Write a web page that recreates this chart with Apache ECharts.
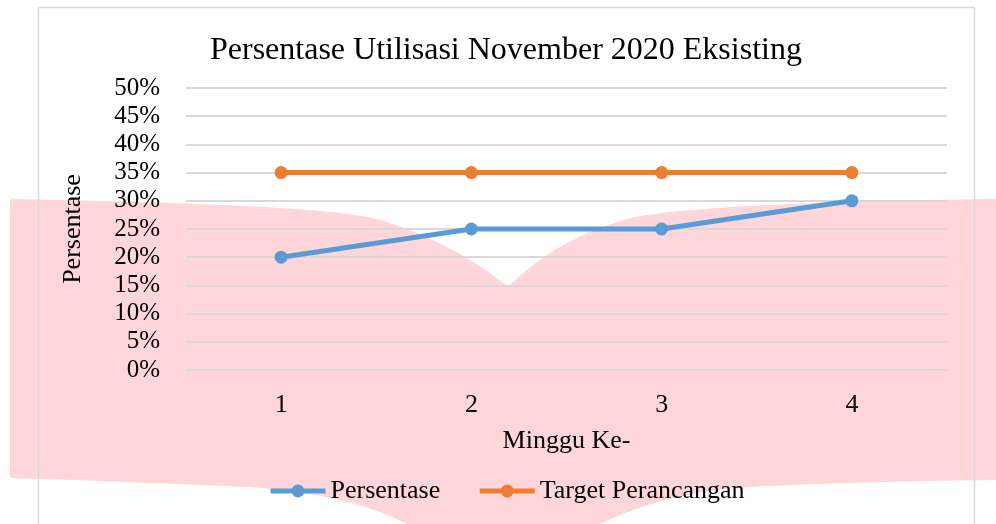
<!DOCTYPE html>
<html>
<head>
<meta charset="utf-8">
<script src="https://cdn.jsdelivr.net/npm/echarts@6/dist/echarts.min.js"></script>
<style>
  html, body { margin: 0; padding: 0; background: #fff; }
  #chart { width: 996px; height: 524px; }
</style>
</head>
<body>
<div id="chart"></div>
<script>
// data
var weeks = ['1', '2', '3', '4']
var persentase = [20, 25, 25, 30]
var targetPerancangan = [35, 35, 35, 35]
var seriesNames = ['Persentase', 'Target Perancangan']

var font = 'Liberation Serif'

// pink ribbon in the background, as a list of cubic curves (start, c1, c2, end)
var ribbonCurves = [
    [[10, 199], [200, 203], [330, 207], [381, 220]],
    [[381, 220], [420, 232], [470, 255], [508, 287]],
    [[508, 287], [545, 250], [590, 228], [635, 217]],
    [[635, 217], [700, 205], [850, 201], [996, 199]],
    [[996, 199], [996, 300], [996, 400], [996, 480]],
    [[996, 480], [900, 481], [800, 484], [750, 487]],
    [[750, 487], [700, 490], [650, 500], [600, 524]],
    [[600, 524], [600, 526], [600, 528], [600, 530]],
    [[600, 530], [500, 530], [450, 530], [407, 530]],
    [[407, 530], [407, 528], [407, 526], [407, 524]],
    [[407, 524], [370, 505], [320, 492], [250, 487]],
    [[250, 487], [150, 483], [60, 479], [10, 478]]
]

function ribbonPoints() {
    var pts = []
    ribbonCurves.forEach(function (c) {
        for (var i = 0; i <= 20; i++) {
            var t = i / 20, u = 1 - t
            pts.push([
                u * u * u * c[0][0] + 3 * u * u * t * c[1][0] + 3 * u * t * t * c[2][0] + t * t * t * c[3][0],
                u * u * u * c[0][1] + 3 * u * u * t * c[1][1] + 3 * u * t * t * c[2][1] + t * t * t * c[3][1]
            ])
        }
    })
    return pts
}

var chart = echarts.init(document.getElementById('chart'))
chart.setOption({
    animation: false,
    backgroundColor: '#fff',
    title: {
        text: 'Persentase Utilisasi November 2020 Eksisting',
        left: 205,
        top: 30,
        textStyle: { fontFamily: font, fontSize: 32, fontWeight: 'normal', color: '#000' }
    },
    graphic: [
        {
            type: 'polygon',
            z: -10,
            silent: true,
            shape: { points: ribbonPoints() },
            style: { fill: '#ffd6d9' }
        },
        {
            // chart border
            type: 'rect',
            z: -5,
            silent: true,
            shape: { x: 38.5, y: 7.5, width: 936, height: 600 },
            style: { fill: 'transparent', stroke: '#d9d9d9', lineWidth: 1.5 }
        }
    ],
    legend: {
        data: seriesNames,
        left: 263,
        top: 473,
        itemWidth: 55,
        itemHeight: 16,
        itemGap: 37,
        lineStyle: { width: 5 },
        textStyle: { fontFamily: font, fontSize: 26, color: '#000' }
    },
    grid: {
        left: 186,
        right: 49,
        top: 88,
        bottom: 154
    },
    xAxis: {
        type: 'category',
        data: weeks,
        name: 'Minggu Ke-',
        nameLocation: 'middle',
        nameGap: 58,
        nameTextStyle: { fontFamily: font, fontSize: 26, color: '#000' },
        axisLine: { show: false },
        axisTick: { show: false },
        axisLabel: { fontFamily: font, fontSize: 26, color: '#000', margin: 22 }
    },
    yAxis: {
        type: 'value',
        min: 0,
        max: 50,
        interval: 5,
        name: 'Persentase',
        nameLocation: 'middle',
        nameGap: 100,
        nameTextStyle: { fontFamily: font, fontSize: 26, color: '#000' },
        axisLine: { show: false },
        axisTick: { show: false },
        axisLabel: { formatter: '{value}%', fontFamily: font, fontSize: 25, color: '#000', margin: 26 },
        splitLine: { lineStyle: { color: '#d9d9d9', width: 2 } }
    },
    series: [
        {
            name: seriesNames[0],
            type: 'line',
            data: persentase,
            symbol: 'circle',
            symbolSize: 13,
            itemStyle: { color: '#5b9bd5' },
            lineStyle: { color: '#5b9bd5', width: 5 }
        },
        {
            name: seriesNames[1],
            type: 'line',
            data: targetPerancangan,
            symbol: 'circle',
            symbolSize: 13,
            itemStyle: { color: '#ed7d31' },
            lineStyle: { color: '#ed7d31', width: 5 }
        }
    ]
})
</script>
</body>
</html>
